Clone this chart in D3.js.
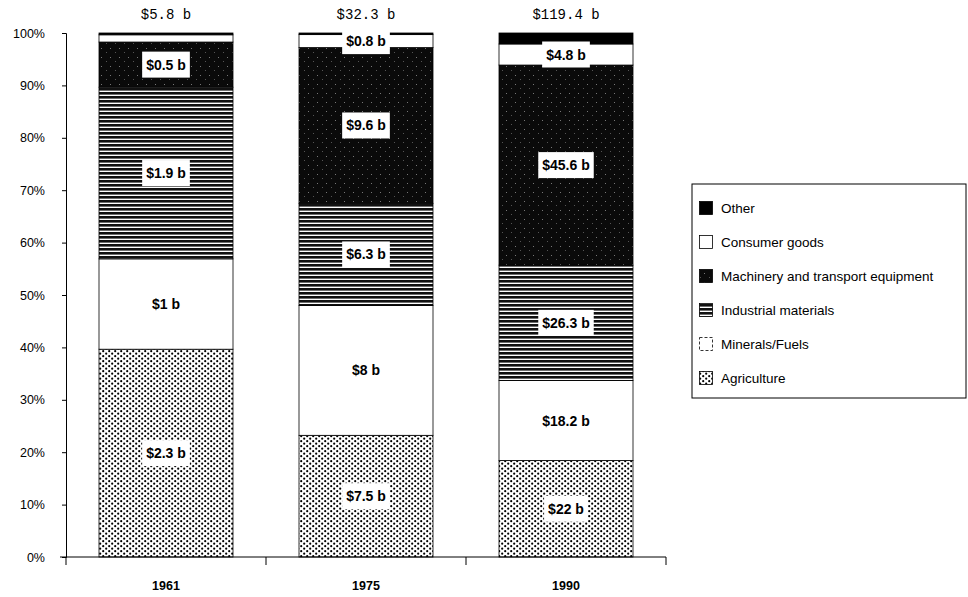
<!DOCTYPE html>
<html>
<head>
<meta charset="utf-8">
<script src="https://cdn.jsdelivr.net/npm/d3@7"></script>
<style>
  html, body { margin: 0; padding: 0; background: #fff; }
  svg { display: block; }
</style>
</head>
<body>
<svg id="chart" width="968" height="597"></svg>
<script>
// ---- data ----
const years = ["1961", "1975", "1990"];
const totalLabels = ["$5.8 b", "$32.3 b", "$119.4 b"];
const seriesNames = ["Agriculture", "Minerals/Fuels", "Industrial materials",
                     "Machinery and transport equipment", "Consumer goods", "Other"];
const agriculture = [2.3, 7.5, 22];
const minerals    = [1, 8, 18.2];
const industrial  = [1.9, 6.3, 26.3];
const machinery   = [0.5, 9.6, 45.6];
const consumer    = [0.08, 0.8, 4.8];
const other       = [0.02, 0.1, 2.5];
const yTicks = [0, 10, 20, 30, 40, 50, 60, 70, 80, 90, 100];
const legendOrder = ["Other", "Consumer goods", "Machinery and transport equipment",
                     "Industrial materials", "Minerals/Fuels", "Agriculture"];

const seriesValues = [agriculture, minerals, industrial, machinery, consumer, other];

// ---- build table ----
const rows = years.map((yr, i) => {
  const r = { year: yr };
  let tot = 0;
  seriesNames.forEach((s, k) => { tot += seriesValues[k][i]; });
  seriesNames.forEach((s, k) => { r[s] = seriesValues[k][i] / tot * 100; r[s + "_raw"] = seriesValues[k][i]; });
  return r;
});

const svg = d3.select("#chart");
const defs = svg.append("defs");

// patterns
const pAg = defs.append("pattern").attr("id", "pAg").attr("patternUnits", "userSpaceOnUse")
  .attr("width", 6).attr("height", 5);
pAg.append("rect").attr("width", 6).attr("height", 5).attr("fill", "#fff");
pAg.append("circle").attr("cx", 1.2).attr("cy", 1.2).attr("r", 1.1).attr("fill", "#000");
pAg.append("circle").attr("cx", 4.2).attr("cy", 3.7).attr("r", 1.1).attr("fill", "#000");

const pInd = defs.append("pattern").attr("id", "pInd").attr("patternUnits", "userSpaceOnUse")
  .attr("width", 8).attr("height", 4);
pInd.append("rect").attr("width", 8).attr("height", 4).attr("fill", "#fff");
pInd.append("rect").attr("y", 0).attr("width", 8).attr("height", 2.6).attr("fill", "#111");

const pMac = defs.append("pattern").attr("id", "pMac").attr("patternUnits", "userSpaceOnUse")
  .attr("width", 9).attr("height", 9);
pMac.append("rect").attr("width", 9).attr("height", 9).attr("fill", "#0a0a0a");
pMac.append("rect").attr("x", 2).attr("y", 3).attr("width", 1).attr("height", 1).attr("fill", "#777");
pMac.append("rect").attr("x", 7).attr("y", 7).attr("width", 1).attr("height", 1).attr("fill", "#555");

const fills = {
  "Agriculture": "url(#pAg)",
  "Minerals/Fuels": "#fff",
  "Industrial materials": "url(#pInd)",
  "Machinery and transport equipment": "url(#pMac)",
  "Consumer goods": "#fff",
  "Other": "#000"
};

// ---- scales ----
const x = d3.scaleBand().domain(years).range([66, 666]).paddingInner(0.33).paddingOuter(0.165);
const y = d3.scaleLinear().domain([0, 100]).range([557, 33]);

const stack = d3.stack().keys(seriesNames);
const stacked = stack(rows);

// bars
const g = svg.append("g");
stacked.forEach(layer => {
  g.selectAll(null).data(layer).enter().append("rect")
    .attr("x", d => x(d.data.year))
    .attr("y", d => y(d[1]))
    .attr("width", x.bandwidth())
    .attr("height", d => y(d[0]) - y(d[1]))
    .attr("fill", fills[layer.key])
    .attr("stroke", "#000")
    .attr("stroke-width", 0.8);
});

// segment labels
const fmt = v => "$" + v + " b";
stacked.forEach(layer => {
  if (layer.key === "Other") return;
  layer.forEach(d => {
    const share = d[1] - d[0];
    if (share < 2) return;
    const cx = x(d.data.year) + x.bandwidth() / 2;
    const cy = (y(d[0]) + y(d[1])) / 2;
    const txt = fmt(d.data[layer.key + "_raw"]);
    const t = svg.append("text")
      .attr("x", cx).attr("y", cy)
      .attr("text-anchor", "middle").attr("dominant-baseline", "central")
      .attr("font-family", "Liberation Sans, Arial, sans-serif")
      .attr("font-weight", "bold").attr("font-size", 14)
      .attr("fill", "#000").text(txt);
    const bb = t.node().getBBox();
    svg.insert("rect", () => t.node())
      .attr("x", bb.x - 4).attr("y", cy - 13)
      .attr("width", bb.width + 8).attr("height", 26)
      .attr("fill", "#fff");
  });
});

// totals on top
svg.selectAll(".tot").data(years).enter().append("text")
  .attr("x", d => x(d) + x.bandwidth() / 2)
  .attr("y", 19)
  .attr("text-anchor", "middle")
  .attr("font-family", "Liberation Mono, Courier New, monospace")
  .attr("font-size", 14)
  .attr("fill", "#000")
  .text((d, i) => totalLabels[i]);

// y axis
const yAxis = svg.append("g").attr("transform", "translate(66,0)")
  .call(d3.axisLeft(y).tickValues(yTicks).tickFormat(d => d + "%").tickSize(4).tickPadding(17));
yAxis.select(".domain").attr("stroke", "#000");
yAxis.selectAll("line").attr("stroke", "#000");
yAxis.selectAll("text").attr("font-family", "Liberation Sans, Arial, sans-serif")
  .attr("font-size", 12.5).attr("fill", "#000");

// x axis
const xAxis = svg.append("g").attr("transform", "translate(0,557)")
  .call(d3.axisBottom(x).tickSize(0).tickPadding(24));
xAxis.select(".domain").attr("stroke", "#000").attr("d", "M60,0H666");
xAxis.selectAll("text").attr("font-family", "Liberation Sans, Arial, sans-serif")
  .attr("font-size", 12.5).attr("font-weight", "bold").attr("fill", "#000");
const bounds = years.map(d => x(d) - (x.step() - x.bandwidth()) / 2).concat([666]);
xAxis.selectAll(".bnd").data(bounds).enter().append("line")
  .attr("x1", d => d).attr("x2", d => d).attr("y1", 0).attr("y2", 8)
  .attr("stroke", "#000");

// legend
const lg = svg.append("g");
lg.append("rect").attr("x", 692).attr("y", 184).attr("width", 274).attr("height", 214)
  .attr("fill", "#fff").attr("stroke", "#000").attr("stroke-width", 1);
legendOrder.forEach((name, i) => {
  const cy = 208 + i * 34;
  lg.append("rect").attr("x", 699.5).attr("y", cy - 6.5).attr("width", 13).attr("height", 13)
    .attr("fill", fills[name]).attr("stroke", "#000")
    .attr("stroke-width", 0.8)
    .attr("stroke-dasharray", name === "Minerals/Fuels" ? "3,2" : null);
  lg.append("text").attr("x", 721).attr("y", cy)
    .attr("dominant-baseline", "central")
    .attr("font-family", "Liberation Sans, Arial, sans-serif")
    .attr("font-size", 13.5).attr("fill", "#000").text(name);
});
</script>
</body>
</html>
